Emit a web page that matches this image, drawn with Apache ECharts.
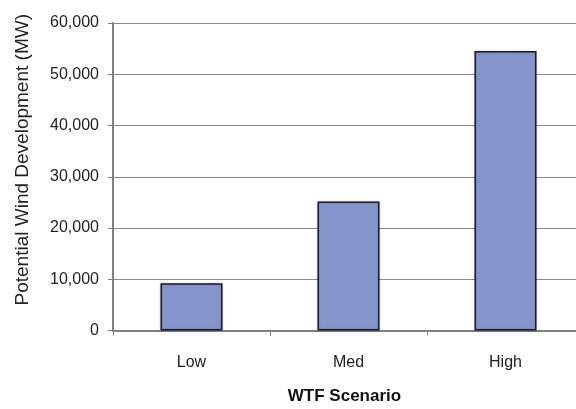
<!DOCTYPE html>
<html>
<head>
<meta charset="utf-8">
<script src="https://cdn.jsdelivr.net/npm/echarts@6/dist/echarts.min.js"></script>
<style>html,body{margin:0;padding:0;background:#fff;}#c{width:576px;height:409px;}</style>
</head>
<body>
<div id="c"></div>
<script>
var categories = ['Low', 'Med', 'High'];
var values = [9200, 25150, 54550];
var yTicks = [0, 10000, 20000, 30000, 40000, 50000, 60000];

var chart = echarts.init(document.getElementById('c'));
chart.setOption({
  animation: false,
  grid: { left: 113, width: 471, top: 23, height: 307.5, containLabel: false, outerBoundsMode: 'none' },
  xAxis: {
    type: 'category',
    data: categories,
    name: 'WTF Scenario',
    nameLocation: 'middle',
    nameGap: 57,
    nameTextStyle: { fontFamily: 'Liberation Sans', fontWeight: 'bold', fontSize: 17, color: '#111', padding: [0, 8, 0, 0] },
    axisLine: { lineStyle: { color: '#808080', width: 2 } },
    axisTick: { show: true, length: 5, lineStyle: { color: '#808080', width: 1 } },
    axisLabel: { fontFamily: 'Liberation Sans', fontSize: 16, color: '#222', margin: 24 }
  },
  yAxis: {
    type: 'value',
    min: 0, max: 60000, interval: 10000,
    name: 'Potential Wind Development (MW)',
    nameLocation: 'middle',
    nameGap: 81,
    nameTextStyle: { fontFamily: 'Liberation Sans', fontSize: 19, color: '#222', padding: [0, 0, 0, 34] },
    axisLine: { show: true, lineStyle: { color: '#808080', width: 2 } },
    axisTick: { show: true, length: 5, lineStyle: { color: '#808080', width: 1 } },
    splitLine: { lineStyle: { color: '#8a8a8a', width: 1 } },
    axisLabel: {
      fontFamily: 'Liberation Sans', fontSize: 16, color: '#222', margin: 14,
      formatter: function (v) { return yTicks.indexOf(v) >= 0 ? v.toLocaleString('en-US') : ''; }
    }
  },
  series: [{
    type: 'bar',
    data: values,
    barWidth: 62,
    itemStyle: {
      color: '#8594cb',
      borderColor: '#1c1c2c',
      borderWidth: 1.5,
      shadowColor: 'rgba(0,0,0,0.25)',
      shadowBlur: 2
    }
  }]
});
</script>
</body>
</html>
